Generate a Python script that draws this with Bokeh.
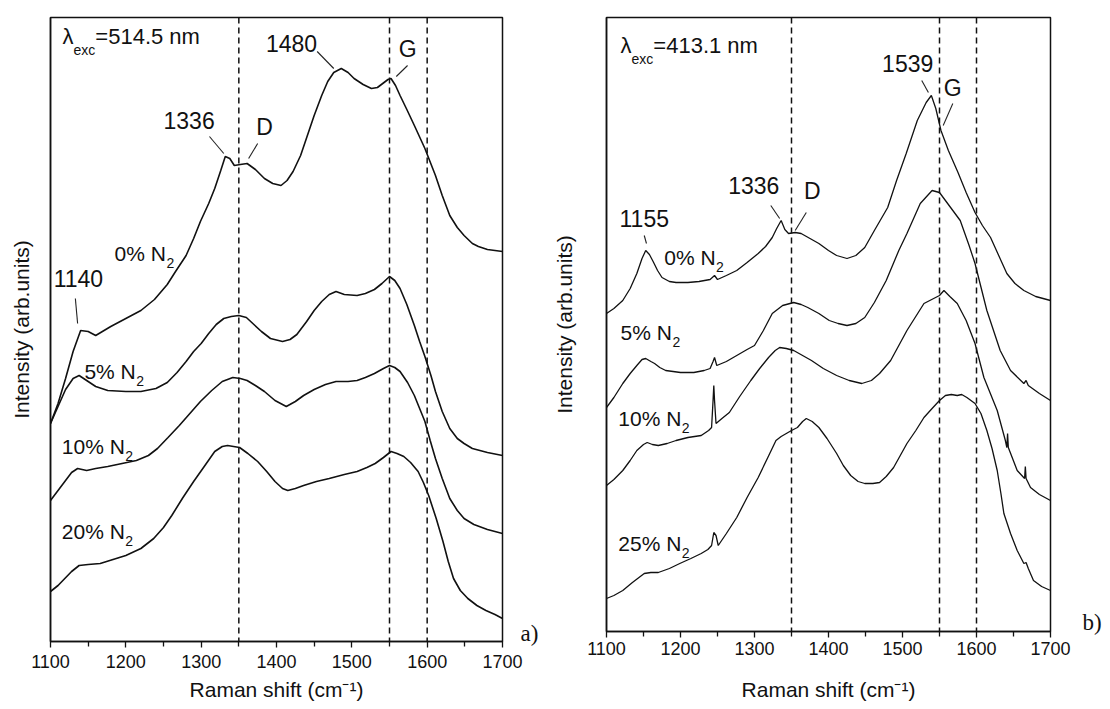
from bokeh.plotting import figure
from bokeh.models import Range1d, FixedTicker, Span, LinearAxis
from bokeh.layouts import row
from bokeh.embed import file_html
from bokeh.resources import INLINE
from bokeh.core.properties import value

SANS = "Liberation Sans"
SERIF = "Liberation Serif"

shift_ticks = [1100, 1200, 1300, 1400, 1500, 1600, 1700]
shift_minor = [1150, 1250, 1350, 1450, 1550, 1650]
ref_lines = [1350, 1550, 1600]

# ---------------- panel a) : lambda_exc = 514.5 nm ----------------
a_x_0 = [1100,1110,1120,1130,1140,1150,1160,1180,1200,1220,1238,1255,1266,1280,1290,1299,1310,1318,1326,1332,1338,1344,1352,1361,1372,1384,1395,1406,1414,1422,1432,1441,1450,1460,1468,1476,1486,1495,1503,1515,1526,1534,1541,1548,1552,1558,1564,1573,1583,1597,1611,1620,1630,1640,1649,1660,1668,1680,1690,1700]
a_y_0 = [218,238,263,290,311,310,306,315,323,331,342,357,370,386,403,420,438,453,471,485,483,476,477,478,472,463,458,456,461,470,486,506,526,546,560,569,573,569,563,557,553,554,558,562,563,556,546,532,516,493,466,446,426,414,406,398,395,392,391,390]

a_x_5 = [1100,1110,1120,1130,1138,1148,1160,1176,1200,1220,1240,1255,1268,1280,1290,1300,1310,1320,1330,1340,1350,1360,1370,1380,1392,1408,1418,1427,1440,1450,1460,1470,1479,1490,1507,1518,1530,1540,1550,1557,1564,1573,1583,1590,1597,1605,1611,1620,1630,1640,1649,1660,1680,1700]
a_y_5 = [218,235,252,263,266,261,255,251,250,250,253,259,269,280,290,298,308,317,323,325,326,324,317,310,303,300,302,307,320,331,340,347,350,347,346,348,352,358,365,361,353,337,316,300,285,266,250,230,213,203,198,193,189,186]

a_x_10 = [1100,1110,1119,1128,1136,1148,1160,1176,1195,1214,1230,1242,1256,1271,1285,1299,1314,1328,1342,1352,1361,1372,1384,1398,1413,1425,1436,1450,1465,1479,1495,1507,1518,1530,1542,1550,1557,1564,1574,1583,1590,1597,1604,1611,1620,1630,1640,1649,1662,1680,1700]
a_y_10 = [141,151,160,169,173,171,173,175,178,181,186,193,204,216,228,240,251,260,264,263,261,256,250,241,235,240,246,252,257,260,260,261,264,268,273,276,274,270,259,246,233,220,201,183,163,143,131,123,117,112,108]

a_x_20 = [1100,1110,1119,1128,1138,1150,1166,1183,1200,1220,1237,1250,1261,1275,1290,1305,1318,1328,1335,1343,1351,1362,1375,1387,1398,1408,1415,1425,1436,1453,1470,1490,1507,1520,1531,1542,1552,1560,1569,1578,1588,1595,1602,1612,1621,1628,1635,1644,1654,1666,1678,1690,1700]
a_y_20 = [50,56,63,70,76,77,78,82,86,93,103,114,126,143,160,176,190,195,196,195,194,188,180,170,160,153,151,153,156,160,163,167,170,174,178,184,190,188,185,179,170,159,146,123,100,80,63,51,43,36,31,27,23]

a_series = [(a_x_0, a_y_0), (a_x_5, a_y_5), (a_x_10, a_y_10), (a_x_20, a_y_20)]
a_n2 = ["0", "5", "10", "20"]

# ---------------- panel b) : lambda_exc = 413.1 nm ----------------
b_x_0 = [1100,1110,1122,1132,1141,1148,1153,1158,1163,1169,1175,1185,1194,1210,1225,1240,1246,1250,1262,1276,1290,1305,1315,1324,1330,1336,1341,1346,1355,1363,1375,1387,1400,1411,1425,1437,1449,1462,1480,1492,1505,1520,1532,1539,1545,1552,1562,1575,1586,1598,1608,1619,1630,1641,1652,1664,1680,1700]
b_y_0 = [318,323,331,343,358,373,381,377,370,361,354,350,349,349,350,352,356,352,356,361,369,378,385,394,403,411,402,398,399,398,393,388,381,376,373,376,384,401,424,451,478,511,529,536,523,501,481,459,439,419,406,394,376,358,348,341,335,331]

b_x_5 = [1100,1110,1122,1132,1141,1148,1153,1160,1165,1172,1180,1200,1218,1232,1240,1244,1246,1249,1262,1276,1290,1300,1312,1324,1338,1353,1363,1372,1387,1401,1413,1425,1437,1449,1462,1478,1495,1506,1524,1540,1550,1565,1578,1590,1598,1614,1632,1646,1664,1667,1670,1685,1700]
b_y_5 = [224,234,248,258,266,272,273,270,268,264,261,259,259,261,263,270,274,266,270,276,282,286,301,318,326,329,327,324,318,311,308,306,308,314,329,351,381,398,428,441,439,424,411,386,368,321,281,261,248,251,246,238,231]

b_x_10 = [1100,1110,1122,1132,1141,1150,1155,1162,1170,1182,1194,1210,1228,1238,1242,1244,1245,1246,1248,1256,1266,1280,1295,1307,1319,1328,1334,1343,1353,1365,1377,1393,1411,1428,1445,1458,1469,1484,1506,1529,1550,1556,1564,1574,1586,1598,1610,1628,1639,1641,1642,1643,1655,1665,1666,1667,1673,1685,1700]
b_y_10 = [146,152,161,171,181,187,189,187,186,188,191,194,196,201,204,231,246,231,208,213,219,235,251,263,274,281,284,283,281,276,271,263,256,251,248,251,258,271,301,328,336,341,335,328,311,288,254,221,191,184,198,184,161,153,165,153,144,137,131]

b_x_25 = [1100,1110,1122,1135,1151,1160,1170,1185,1199,1214,1228,1237,1242,1245,1248,1251,1262,1276,1290,1305,1318,1329,1336,1343,1350,1358,1365,1370,1378,1387,1398,1411,1420,1430,1440,1449,1460,1469,1478,1488,1497,1506,1518,1529,1540,1550,1558,1566,1574,1580,1587,1598,1606,1614,1621,1628,1633,1637,1646,1655,1664,1667,1670,1677,1688,1700]
b_y_25 = [33,36,41,49,58,59,59,63,68,73,78,82,86,99,96,86,98,114,134,154,174,191,195,198,201,204,210,213,210,204,193,178,166,156,150,148,148,149,155,164,176,188,201,214,223,231,236,237,236,237,234,228,218,201,183,161,138,118,98,81,68,69,63,51,45,41]

b_series = [(b_x_0, b_y_0), (b_x_5, b_y_5), (b_x_10, b_y_10), (b_x_25, b_y_25)]
b_n2 = ["0", "5", "10", "25"]

# Liberation Sans (Arial metrics) advance widths, in em
ADV = {"0": .556, "1": .556, "2": .556, "3": .556, "4": .556, "5": .556, "6": .556,
       "7": .556, "8": .556, "9": .556, "%": .889, " ": .278, "N": .722, "=": .584,
       ".": .278, "n": .556, "m": .833, "e": .556, "x": .5, "c": .5, "λ": .5}


def tw(s, size):
    return sum(ADV.get(c, 0.556) for c in s) * size


def txt(p, x, y, s, size, align="left", font=SANS):
    p.text(x=[x], y=[y], text=[s], text_font=value(font), text_font_size=f"{size}px",
           text_align=align, text_baseline="middle", text_color="#111111")


def n2_label(p, x, y, pct, xpp):
    main = f"{pct}% N"
    txt(p, x, y, main, 21)
    txt(p, x + (tw(main, 21) + 0.5) * xpp, y - 9, "2", 14)


def lam_label(p, x, y, nm, xpp):
    txt(p, x, y, "λ", 22)
    x2 = x + tw("λ", 22) * xpp
    txt(p, x2, y - 13, "exc", 14)
    x3 = x2 + tw("exc", 14) * xpp
    txt(p, x3, y, f"={nm} nm", 22)


def peak_label(p, s, x, y, lx0, ly0, lx1, ly1):
    txt(p, x, y, s, 23, align="center")
    p.segment(x0=[lx0], y0=[ly0], x1=[lx1], y1=[ly1], line_color="#222222", line_width=1.1)


def panel_tag(p, tag, ypos, standoff):
    ax = LinearAxis(ticker=FixedTicker(ticks=[ypos]), major_label_overrides={ypos: tag})
    ax.axis_line_color = None
    ax.major_tick_line_color = None
    ax.minor_tick_line_color = None
    ax.major_tick_in = 0
    ax.major_tick_out = 0
    ax.major_label_standoff = standoff
    ax.major_label_text_font = SERIF
    ax.major_label_text_font_size = "23px"
    ax.major_label_text_color = "#111111"
    p.add_layout(ax, "right")


def make_panel(ymax, fw, fh, bl, br, bt, bb, ylab_off, tick_off, xlab_off):
    p = figure(frame_width=fw, frame_height=fh,
               x_range=Range1d(1100, 1700), y_range=Range1d(0, ymax),
               min_border_left=bl, min_border_right=br, min_border_top=bt, min_border_bottom=bb,
               output_backend="svg", toolbar_location=None)
    p.xgrid.visible = False
    p.ygrid.visible = False
    p.outline_line_color = "#111111"
    p.outline_line_width = 1.5
    p.outline_line_alpha = 1.0
    p.background_fill_color = "white"
    p.border_fill_color = "white"

    xa = p.xaxis[0]
    xa.ticker = FixedTicker(ticks=shift_ticks, minor_ticks=shift_minor)
    xa.axis_line_width = 1.5
    xa.axis_line_color = "#111111"
    xa.major_tick_in = 0
    xa.major_tick_out = 6
    xa.minor_tick_in = 0
    xa.minor_tick_out = 5
    xa.major_tick_line_width = 1.3
    xa.minor_tick_line_width = 1.3
    xa.major_tick_line_color = "#111111"
    xa.minor_tick_line_color = "#111111"
    xa.major_label_text_font = SANS
    xa.major_label_text_font_size = "18px"
    xa.major_label_text_color = "#111111"
    xa.major_label_standoff = tick_off
    xa.axis_label = "Raman shift (cm⁻¹)"
    xa.axis_label_text_font = SANS
    xa.axis_label_text_font_size = "21px"
    xa.axis_label_text_font_style = "normal"
    xa.axis_label_text_color = "#111111"
    xa.axis_label_standoff = xlab_off

    ya = p.yaxis[0]
    ya.ticker = FixedTicker(ticks=[])
    ya.major_tick_line_color = None
    ya.minor_tick_line_color = None
    ya.major_label_text_font_size = "0px"
    ya.major_label_standoff = 0
    ya.axis_line_width = 1.5
    ya.axis_line_color = "#111111"
    ya.axis_label = "Intensity (arb.units)"
    ya.axis_label_text_font = SANS
    ya.axis_label_text_font_size = "21px"
    ya.axis_label_text_font_style = "normal"
    ya.axis_label_text_color = "#111111"
    ya.axis_label_standoff = ylab_off

    for loc in ref_lines:
        p.add_layout(Span(location=loc, dimension="height", line_color="#111111",
                          line_dash="6 4", line_width=1.5))
    return p


# ---------------- panel a ----------------
pa = make_panel(624, 452, 624, 50, 46, 9, 75, 18, 7, 7)
xpp_a = 600 / 452
for (xs, ys) in a_series:
    pa.line(xs, ys, line_color="#111111", line_width=1.6)
lam_label(pa, 1116, 605, "514.5", xpp_a)
peak_label(pa, "1480", 1420, 598, 1454, 590, 1476, 573)
peak_label(pa, "G", 1574, 593, 1574, 576, 1559, 565)
peak_label(pa, "1336", 1284, 521, 1311, 505, 1330, 488)
peak_label(pa, "D", 1384, 515, 1375, 498, 1363, 483)
peak_label(pa, "1140", 1137, 363, 1133, 343, 1136, 318)
n2_label(pa, 1185, 388, a_n2[0], xpp_a)
n2_label(pa, 1145, 270, a_n2[1], xpp_a)
n2_label(pa, 1115, 195, a_n2[2], xpp_a)
n2_label(pa, 1115, 110, a_n2[3], xpp_a)
panel_tag(pa, "a)", 8, 18)

# ---------------- panel b ----------------
pb = make_panel(614, 444, 614, 58, 60, 17, 77, 31, 4, 20)
xpp_b = 600 / 444
for (xs, ys) in b_series:
    pb.line(xs, ys, line_color="#111111", line_width=1.3)
lam_label(pb, 1119, 586, "413.1", xpp_b)
peak_label(pb, "1539", 1507, 568, 1526, 551, 1535, 539)
peak_label(pb, "G", 1568, 544, 1568, 528, 1555, 506)
peak_label(pb, "1336", 1299, 446, 1322, 426, 1334, 413)
peak_label(pb, "D", 1378, 441, 1370, 419, 1355, 401)
peak_label(pb, "1155", 1151, 413, 1151, 396, 1154, 388)
n2_label(pb, 1178, 374, b_n2[0], xpp_b)
n2_label(pb, 1119, 299, b_n2[1], xpp_b)
n2_label(pb, 1116, 213, b_n2[2], xpp_b)
n2_label(pb, 1116, 88, b_n2[3], xpp_b)
panel_tag(pb, "b)", 9, 32)

layout = row(pa, pb)
open("out.html", "w").write(file_html(layout, INLINE))
